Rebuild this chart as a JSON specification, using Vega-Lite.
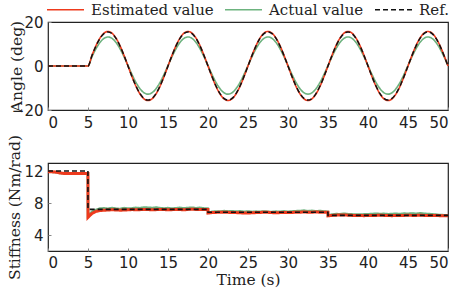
{
  "$schema": "https://vega.github.io/schema/vega-lite/v6.json",
  "padding": {"left": 6, "top": -10, "right": 0, "bottom": 0},
  "bounds": "flush",
  "spacing": 53,
  "config": {
    "view": {"stroke": "#222", "strokeWidth": 1.2},
    "axis": {
      "labelFont": "DejaVu Sans", "labelFontSize": 15, "labelColor": "#222",
      "titleFont": "DejaVu Serif", "titleFontSize": 15.5, "titleFontWeight": "normal", "titleColor": "#222",
      "grid": false, "domain": false, "tickColor": "#888", "tickSize": -3, "labelPadding": 8
    },
    "legend": {
      "labelFont": "DejaVu Serif", "labelFontSize": 15, "labelColor": "#222",
      "symbolType": "stroke", "symbolSize": 1369, "symbolStrokeWidth": 1.5,
      "labelOffset": 6, "columnPadding": 8, "padding": 0
    }
  },
  "datasets": {
    "angle": [
      {"t":0,"r":0,"e":0,"a":0},
      {"t":5,"r":0,"e":0,"a":0},
      {"t":5.5,"r":4.79,"e":4.85,"a":4.22},{"t":6,"r":9.11,"e":9.23,"a":7.84},{"t":6.5,"r":12.54,"e":12.7,"a":10.72},{"t":7,"r":14.74,"e":14.93,"a":12.56},{"t":7.5,"r":15.5,"e":15.7,"a":13.2},{"t":8,"r":14.74,"e":14.93,"a":12.56},{"t":8.5,"r":12.54,"e":12.7,"a":10.72},{"t":9,"r":9.11,"e":9.23,"a":7.84},{"t":9.5,"r":4.79,"e":4.85,"a":4.22},
      {"t":10,"r":0,"e":0,"a":0.2},{"t":10.5,"r":-4.79,"e":-4.85,"a":-3.82},{"t":11,"r":-9.11,"e":-9.23,"a":-7.44},{"t":11.5,"r":-12.54,"e":-12.7,"a":-10.32},{"t":12,"r":-14.74,"e":-14.93,"a":-12.16},{"t":12.5,"r":-15.5,"e":-15.7,"a":-12.8},{"t":13,"r":-14.74,"e":-14.93,"a":-12.16},{"t":13.5,"r":-12.54,"e":-12.7,"a":-10.32},{"t":14,"r":-9.11,"e":-9.23,"a":-7.44},{"t":14.5,"r":-4.79,"e":-4.85,"a":-3.82},
      {"t":15,"r":0,"e":0,"a":0.2},{"t":15.5,"r":4.79,"e":4.85,"a":4.22},{"t":16,"r":9.11,"e":9.23,"a":7.84},{"t":16.5,"r":12.54,"e":12.7,"a":10.72},{"t":17,"r":14.74,"e":14.93,"a":12.56},{"t":17.5,"r":15.5,"e":15.7,"a":13.2},{"t":18,"r":14.74,"e":14.93,"a":12.56},{"t":18.5,"r":12.54,"e":12.7,"a":10.72},{"t":19,"r":9.11,"e":9.23,"a":7.84},{"t":19.5,"r":4.79,"e":4.85,"a":4.22},
      {"t":20,"r":0,"e":0,"a":0.2},{"t":20.5,"r":-4.79,"e":-4.85,"a":-3.82},{"t":21,"r":-9.11,"e":-9.23,"a":-7.44},{"t":21.5,"r":-12.54,"e":-12.7,"a":-10.32},{"t":22,"r":-14.74,"e":-14.93,"a":-12.16},{"t":22.5,"r":-15.5,"e":-15.7,"a":-12.8},{"t":23,"r":-14.74,"e":-14.93,"a":-12.16},{"t":23.5,"r":-12.54,"e":-12.7,"a":-10.32},{"t":24,"r":-9.11,"e":-9.23,"a":-7.44},{"t":24.5,"r":-4.79,"e":-4.85,"a":-3.82},
      {"t":25,"r":0,"e":0,"a":0.2},{"t":25.5,"r":4.79,"e":4.85,"a":4.22},{"t":26,"r":9.11,"e":9.23,"a":7.84},{"t":26.5,"r":12.54,"e":12.7,"a":10.72},{"t":27,"r":14.74,"e":14.93,"a":12.56},{"t":27.5,"r":15.5,"e":15.7,"a":13.2},{"t":28,"r":14.74,"e":14.93,"a":12.56},{"t":28.5,"r":12.54,"e":12.7,"a":10.72},{"t":29,"r":9.11,"e":9.23,"a":7.84},{"t":29.5,"r":4.79,"e":4.85,"a":4.22},
      {"t":30,"r":0,"e":0,"a":0.2},{"t":30.5,"r":-4.79,"e":-4.85,"a":-3.82},{"t":31,"r":-9.11,"e":-9.23,"a":-7.44},{"t":31.5,"r":-12.54,"e":-12.7,"a":-10.32},{"t":32,"r":-14.74,"e":-14.93,"a":-12.16},{"t":32.5,"r":-15.5,"e":-15.7,"a":-12.8},{"t":33,"r":-14.74,"e":-14.93,"a":-12.16},{"t":33.5,"r":-12.54,"e":-12.7,"a":-10.32},{"t":34,"r":-9.11,"e":-9.23,"a":-7.44},{"t":34.5,"r":-4.79,"e":-4.85,"a":-3.82},
      {"t":35,"r":0,"e":0,"a":0.2},{"t":35.5,"r":4.79,"e":4.85,"a":4.22},{"t":36,"r":9.11,"e":9.23,"a":7.84},{"t":36.5,"r":12.54,"e":12.7,"a":10.72},{"t":37,"r":14.74,"e":14.93,"a":12.56},{"t":37.5,"r":15.5,"e":15.7,"a":13.2},{"t":38,"r":14.74,"e":14.93,"a":12.56},{"t":38.5,"r":12.54,"e":12.7,"a":10.72},{"t":39,"r":9.11,"e":9.23,"a":7.84},{"t":39.5,"r":4.79,"e":4.85,"a":4.22},
      {"t":40,"r":0,"e":0,"a":0.2},{"t":40.5,"r":-4.79,"e":-4.85,"a":-3.82},{"t":41,"r":-9.11,"e":-9.23,"a":-7.44},{"t":41.5,"r":-12.54,"e":-12.7,"a":-10.32},{"t":42,"r":-14.74,"e":-14.93,"a":-12.16},{"t":42.5,"r":-15.5,"e":-15.7,"a":-12.8},{"t":43,"r":-14.74,"e":-14.93,"a":-12.16},{"t":43.5,"r":-12.54,"e":-12.7,"a":-10.32},{"t":44,"r":-9.11,"e":-9.23,"a":-7.44},{"t":44.5,"r":-4.79,"e":-4.85,"a":-3.82},
      {"t":45,"r":0,"e":0,"a":0.2},{"t":45.5,"r":4.79,"e":4.85,"a":4.22},{"t":46,"r":9.11,"e":9.23,"a":7.84},{"t":46.5,"r":12.54,"e":12.7,"a":10.72},{"t":47,"r":14.74,"e":14.93,"a":12.56},{"t":47.5,"r":15.5,"e":15.7,"a":13.2},{"t":48,"r":14.74,"e":14.93,"a":12.56},{"t":48.5,"r":12.54,"e":12.7,"a":10.72},{"t":49,"r":9.11,"e":9.23,"a":7.84},{"t":49.5,"r":4.79,"e":4.85,"a":4.22},
      {"t":50,"r":0,"e":0,"a":0.2}
    ],
    "stiff": [
      {"t":0,"e":11.9,"a":11.9,"r":12},{"t":0.5,"e":11.9,"a":11.9,"r":12},{"t":1,"e":11.85,"a":11.85,"r":12},{"t":1.5,"e":11.75,"a":11.75,"r":12},{"t":2,"e":11.7,"a":11.7,"r":12},{"t":3,"e":11.7,"a":11.7,"r":12},{"t":4,"e":11.7,"a":11.7,"r":12},{"t":4.99,"e":11.7,"a":11.7,"r":12},
      {"t":5,"e":6.2,"a":6.4,"r":7.2},{"t":5.5,"e":6.7,"a":6.9,"r":7.2},{"t":6,"e":6.95,"a":7.15,"r":7.2},{"t":6.5,"e":7.05,"a":7.3,"r":7.2},{"t":7,"e":7.1,"a":7.35,"r":7.2},{"t":7.5,"e":7.12,"a":7.28,"r":7.2},{"t":8,"e":7.15,"a":7.38,"r":7.2},{"t":8.5,"e":7.13,"a":7.3,"r":7.2},{"t":9,"e":7.1,"a":7.25,"r":7.2},{"t":9.5,"e":7.12,"a":7.36,"r":7.2},
      {"t":10,"e":7.15,"a":7.3,"r":7.2},{"t":10.5,"e":7.18,"a":7.33,"r":7.2},{"t":11,"e":7.15,"a":7.4,"r":7.2},{"t":11.5,"e":7.17,"a":7.35,"r":7.2},{"t":12,"e":7.2,"a":7.45,"r":7.2},{"t":12.5,"e":7.18,"a":7.42,"r":7.2},{"t":13,"e":7.15,"a":7.38,"r":7.2},{"t":13.5,"e":7.17,"a":7.44,"r":7.2},{"t":14,"e":7.2,"a":7.36,"r":7.2},{"t":14.5,"e":7.18,"a":7.32,"r":7.2},
      {"t":15,"e":7.15,"a":7.37,"r":7.2},{"t":15.5,"e":7.17,"a":7.3,"r":7.2},{"t":16,"e":7.2,"a":7.35,"r":7.2},{"t":16.5,"e":7.18,"a":7.4,"r":7.2},{"t":17,"e":7.15,"a":7.33,"r":7.2},{"t":17.5,"e":7.2,"a":7.38,"r":7.2},{"t":18,"e":7.22,"a":7.42,"r":7.2},{"t":18.5,"e":7.2,"a":7.35,"r":7.2},{"t":19,"e":7.18,"a":7.4,"r":7.2},{"t":19.5,"e":7.2,"a":7.32,"r":7.2},{"t":19.99,"e":7.2,"a":7.3,"r":7.2},
      {"t":20,"e":6.75,"a":6.8,"r":6.85},{"t":20.5,"e":6.8,"a":6.9,"r":6.85},{"t":21,"e":6.82,"a":6.95,"r":6.85},{"t":21.5,"e":6.85,"a":6.92,"r":6.85},{"t":22,"e":6.85,"a":7.0,"r":6.85},{"t":22.5,"e":6.83,"a":6.95,"r":6.85},{"t":23,"e":6.8,"a":6.98,"r":6.85},{"t":23.5,"e":6.8,"a":6.93,"r":6.85},{"t":24,"e":6.78,"a":6.97,"r":6.85},{"t":24.5,"e":6.75,"a":6.9,"r":6.85},
      {"t":25,"e":6.75,"a":6.95,"r":6.85},{"t":25.5,"e":6.78,"a":6.88,"r":6.85},{"t":26,"e":6.8,"a":6.93,"r":6.85},{"t":26.5,"e":6.82,"a":6.9,"r":6.85},{"t":27,"e":6.85,"a":6.95,"r":6.85},{"t":27.5,"e":6.83,"a":6.9,"r":6.85},{"t":28,"e":6.8,"a":6.88,"r":6.85},{"t":28.5,"e":6.78,"a":6.93,"r":6.85},{"t":29,"e":6.8,"a":6.9,"r":6.85},{"t":29.5,"e":6.82,"a":6.96,"r":6.85},
      {"t":30,"e":6.8,"a":6.9,"r":6.85},{"t":30.5,"e":6.82,"a":6.95,"r":6.85},{"t":31,"e":6.85,"a":6.98,"r":6.85},{"t":31.5,"e":6.85,"a":7.0,"r":6.85},{"t":32,"e":6.87,"a":7.05,"r":6.85},{"t":32.5,"e":6.85,"a":6.98,"r":6.85},{"t":33,"e":6.85,"a":7.02,"r":6.85},{"t":33.5,"e":6.87,"a":6.96,"r":6.85},{"t":34,"e":6.85,"a":7.0,"r":6.85},{"t":34.5,"e":6.85,"a":6.95,"r":6.85},{"t":34.99,"e":6.85,"a":6.9,"r":6.85},
      {"t":35,"e":6.4,"a":6.45,"r":6.45},{"t":35.5,"e":6.45,"a":6.55,"r":6.45},{"t":36,"e":6.48,"a":6.62,"r":6.45},{"t":36.5,"e":6.5,"a":6.6,"r":6.45},{"t":37,"e":6.5,"a":6.66,"r":6.45},{"t":37.5,"e":6.48,"a":6.6,"r":6.45},{"t":38,"e":6.45,"a":6.58,"r":6.45},{"t":38.5,"e":6.45,"a":6.55,"r":6.45},{"t":39,"e":6.43,"a":6.55,"r":6.45},{"t":39.5,"e":6.42,"a":6.58,"r":6.45},
      {"t":40,"e":6.43,"a":6.6,"r":6.45},{"t":40.5,"e":6.45,"a":6.63,"r":6.45},{"t":41,"e":6.45,"a":6.67,"r":6.45},{"t":41.5,"e":6.47,"a":6.62,"r":6.45},{"t":42,"e":6.45,"a":6.65,"r":6.45},{"t":42.5,"e":6.43,"a":6.6,"r":6.45},{"t":43,"e":6.42,"a":6.63,"r":6.45},{"t":43.5,"e":6.43,"a":6.66,"r":6.45},{"t":44,"e":6.45,"a":6.62,"r":6.45},{"t":44.5,"e":6.45,"a":6.68,"r":6.45},
      {"t":45,"e":6.47,"a":6.65,"r":6.45},{"t":45.5,"e":6.45,"a":6.7,"r":6.45},{"t":46,"e":6.45,"a":6.65,"r":6.45},{"t":46.5,"e":6.47,"a":6.72,"r":6.45},{"t":47,"e":6.45,"a":6.66,"r":6.45},{"t":47.5,"e":6.45,"a":6.62,"r":6.45},{"t":48,"e":6.45,"a":6.6,"r":6.45},{"t":48.5,"e":6.43,"a":6.55,"r":6.45},{"t":49,"e":6.42,"a":6.5,"r":6.45},{"t":49.5,"e":6.42,"a":6.48,"r":6.45},{"t":50,"e":6.42,"a":6.45,"r":6.45}
    ]
  },
  "resolve": {"scale": {"color": "shared", "strokeDash": "shared"}},
  "vconcat": [
    {
      "width": 400, "height": 88,
      "data": {"name": "angle"},
      "transform": [{"fold": ["a", "e", "r"], "as": ["s", "v"]}],
      "encoding": {
        "x": {"field": "t", "type": "quantitative", "scale": {"domain": [0, 50], "nice": false},
              "axis": {"title": null, "values": [0,5,10,15,20,25,30,35,40,45,50]}},
        "y": {"field": "v", "type": "quantitative", "scale": {"domain": [-20, 20], "nice": false},
              "axis": {"title": "Angle (deg)", "values": [-20, 0, 20], "titleX": -24}},
        "color": {"field": "s", "type": "nominal",
                  "scale": {"domain": ["e", "a", "r"], "range": ["#ee3a1d", "#6db37f", "#111111"]},
                  "legend": {"orient": "none", "direction": "horizontal", "legendX": -2, "legendY": -32, "title": null, "symbolStrokeWidth": 1.5,
                             "labelExpr": "datum.value == 'e' ? 'Estimated value' : datum.value == 'a' ? 'Actual value' : 'Ref.'"}},
        "strokeDash": {"field": "s", "type": "nominal",
                       "scale": {"domain": ["e", "a", "r"], "range": [[1, 0], [1, 0], [5, 3]]},
                       "legend": {"orient": "none", "direction": "horizontal", "legendX": -2, "legendY": -32, "title": null, "symbolStrokeWidth": 1.5,
                             "labelExpr": "datum.value == 'e' ? 'Estimated value' : datum.value == 'a' ? 'Actual value' : 'Ref.'"}}
      },
      "layer": [
        {"transform": [{"filter": "datum.s == 'a'"}], "mark": {"type": "line", "interpolate": "monotone", "strokeWidth": 1.6}},
        {"transform": [{"filter": "datum.s == 'e'"}], "mark": {"type": "line", "interpolate": "monotone", "strokeWidth": 1.6}},
        {"transform": [{"filter": "datum.s == 'r'"}], "mark": {"type": "line", "interpolate": "monotone", "strokeWidth": 1.5}}
      ]
    },
    {
      "width": 400, "height": 88,
      "data": {"name": "stiff"},
      "transform": [{"fold": ["a", "e", "r"], "as": ["s", "v"]}],
      "encoding": {
        "x": {"field": "t", "type": "quantitative", "scale": {"domain": [0, 50], "nice": false},
              "axis": {"title": "Time (s)", "values": [0,5,10,15,20,25,30,35,40,45,50], "titlePadding": 2, "labelPadding": 7}},
        "y": {"field": "v", "type": "quantitative", "scale": {"domain": [2, 13], "nice": false},
              "axis": {"title": "Stiffness (Nm/rad)", "values": [4, 8, 12], "titleX": -26}},
        "color": {"field": "s", "type": "nominal",
                  "scale": {"domain": ["e", "a", "r"], "range": ["#ee3a1d", "#6db37f", "#111111"]}},
        "strokeDash": {"field": "s", "type": "nominal",
                       "scale": {"domain": ["e", "a", "r"], "range": [[1, 0], [1, 0], [5, 3]]}}
      },
      "layer": [
        {"transform": [{"filter": "datum.s == 'a'"}], "mark": {"type": "line", "strokeWidth": 2.5}},
        {"transform": [{"filter": "datum.s == 'e'"}], "mark": {"type": "line", "strokeWidth": 3}},
        {"transform": [{"filter": "datum.s == 'r'"}], "mark": {"type": "line", "strokeWidth": 1.6}}
      ]
    }
  ]
}
